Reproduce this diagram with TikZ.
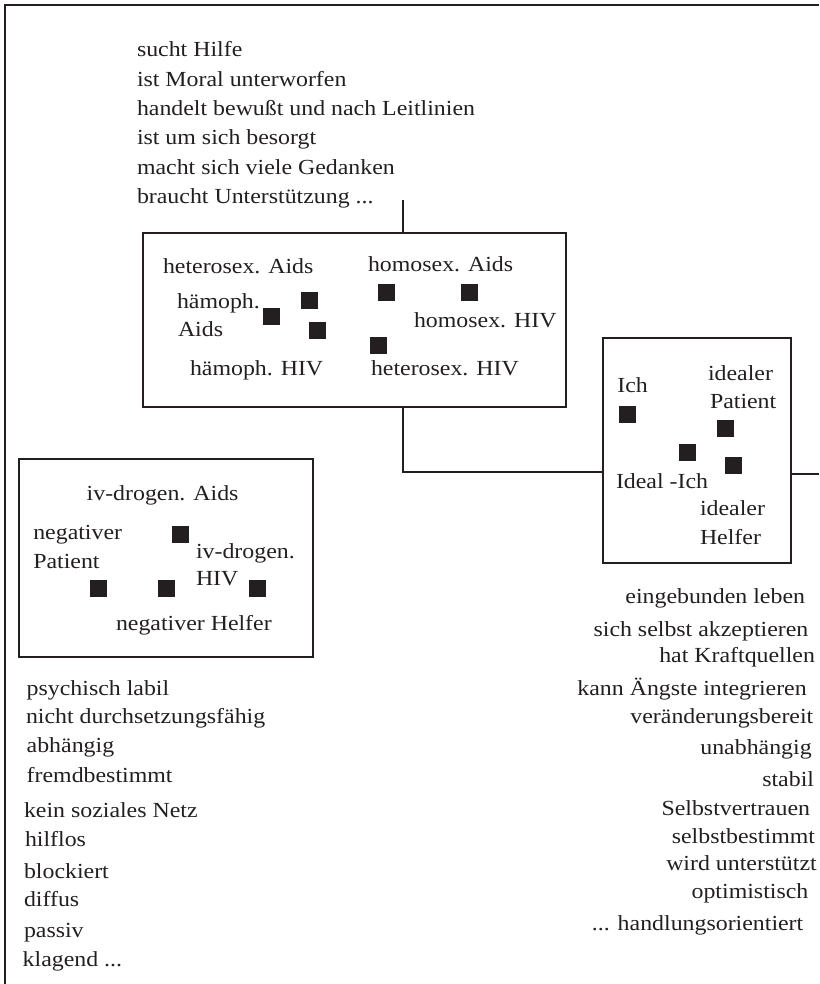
\documentclass[tikz,border=0pt]{standalone}
\usepackage{fontspec}
\setmainfont{Liberation Serif}[FakeStretch=1.11]
\definecolor{ink}{HTML}{231F20}
\begin{document}
\begin{tikzpicture}[x=1pt,y=-1pt,
  every node/.style={inner sep=0pt, outer sep=0pt, text=ink},
  lbl/.style={font=\fontsize{21.5}{26}\selectfont},
  lw/.style={lbl, anchor=base west},
  le/.style={lbl, anchor=base east},
  sq/.style={fill=ink, minimum size=17pt},
  box/.style={draw=ink, line width=2pt, anchor=north west},
  conn/.style={draw=ink, line width=2pt},
  frame/.style={draw=ink, line width=2.2pt}]
\useasboundingbox (0,0) rectangle (819,984);

% outer frame (top and left)
\draw[frame] (5,984) -- (5,5) -- (819,5);

% top list
\node[lw] (t1) at (137,57) {sucht Hilfe};
\node[lw] (t2) at (137,87) {ist Moral unterworfen};
\node[lw] (t3) at (137,115.5) {handelt bewußt und nach Leitlinien};
\node[lw] (t4) at (137,144.5) {ist um sich besorgt};
\node[lw] (t5) at (137,175) {macht sich viele Gedanken};
\node[lw] (t6) at (137,204) {braucht Unterstützung ...};

% central box
\node[box, minimum width=423pt, minimum height=174pt] (hb) at (143,233) {};
\node[lw] (c1) at (163,273) {heterosex. Aids};
\node[lw] (c2) at (368,271.5) {homosex. Aids};
\node[lw] (c3) at (177,308) {hämoph.};
\node[lw] (c4) at (178,336.5) {Aids};
\node[lw] (c5) at (414,327) {homosex. HIV};
\node[lw] (c6) at (190,375) {hämoph. HIV};
\node[lw] (c7) at (371,375) {heterosex. HIV};
\node[sq] (cs1) at (271.7,316.7) {};
\node[sq] (cs2) at (309.3,300.7) {};
\node[sq] (cs3) at (317.3,330) {};
\node[sq] (cs4) at (386.7,292.3) {};
\node[sq] (cs5) at (469.3,292.3) {};
\node[sq] (cs6) at (378.3,345.7) {};

% right box
\node[box, minimum width=188pt, minimum height=225pt] (rb) at (603,338) {};
\node[lw] (r1) at (617.3,392.7) {Ich};
\node[lw] (r2) at (708,380) {idealer};
\node[lw] (r3) at (710,408.3) {Patient};
\node[lw] (r4) at (616,488.3) {Ideal -Ich};
\node[lw] (r5) at (700,515) {idealer};
\node[lw] (r6) at (700,544) {Helfer};
\node[sq] (rs1) at (627.5,414.3) {};
\node[sq] (rs2) at (725.7,428.3) {};
\node[sq] (rs3) at (687.7,452.3) {};
\node[sq] (rs4) at (733.3,465.7) {};

% left box
\node[box, minimum width=294pt, minimum height=198pt] (lb) at (19,459) {};
\node[lw] (l1) at (86.7,500) {iv-drogen. Aids};
\node[lw] (l2) at (33.3,539.3) {negativer};
\node[lw] (l3) at (33.3,568.3) {Patient};
\node[lw] (l4) at (196,558.3) {iv-drogen.};
\node[lw] (l5) at (196,585.7) {HIV};
\node[lw] (l6) at (116,630.7) {negativer Helfer};
\node[sq] (ls1) at (180.7,534.3) {};
\node[sq] (ls2) at (98.3,588.3) {};
\node[sq] (ls3) at (166.7,588.3) {};
\node[sq] (ls4) at (257.5,588.3) {};

% connectors
\coordinate (topend) at (403,200);
\draw[conn] (topend) -- (topend |- hb.north);
\coordinate (bend) at (403,472);
\draw[conn] (bend |- hb.south) -- (bend) -- (bend -| rb.west);
\coordinate (rend) at (819,474);
\draw[conn] (rend -| rb.east) -- (rend);

% lower left list
\node[lw] (n1) at (26.7,695) {psychisch labil};
\node[lw] (n2) at (26,723.3) {nicht durchsetzungsfähig};
\node[lw] (n3) at (26.7,752.3) {abhängig};
\node[lw] (n4) at (26.7,782.7) {fremdbestimmt};
\node[lw] (n5) at (24,817.3) {kein soziales Netz};
\node[lw] (n6) at (25,846.7) {hilflos};
\node[lw] (n7) at (24,878.3) {blockiert};
\node[lw] (n8) at (24,906.7) {diffus};
\node[lw] (n9) at (24,937.3) {passiv};
\node[lw] (n10) at (22.7,966) {klagend ...};

% lower right list
\node[le] (p1) at (805,603) {eingebunden leben};
\node[le] (p2) at (808.3,636.7) {sich selbst akzeptieren};
\node[le] (p3) at (815,662) {hat Kraftquellen};
\node[le] (p4) at (806.7,695) {kann Ängste integrieren};
\node[le] (p5) at (813.3,723.5) {veränderungsbereit};
\node[le] (p6) at (811.7,754) {unabhängig};
\node[le] (p7) at (814,786.5) {stabil};
\node[le] (p8) at (810,815) {Selbstvertrauen};
\node[le] (p9) at (815,843.3) {selbstbestimmt};
\node[le] (p10) at (816.7,870.5) {wird unterstützt};
\node[le] (p11) at (808.3,898) {optimistisch};
\node[le] (p12) at (803.3,930) {... handlungsorientiert};
\end{tikzpicture}
\end{document}
